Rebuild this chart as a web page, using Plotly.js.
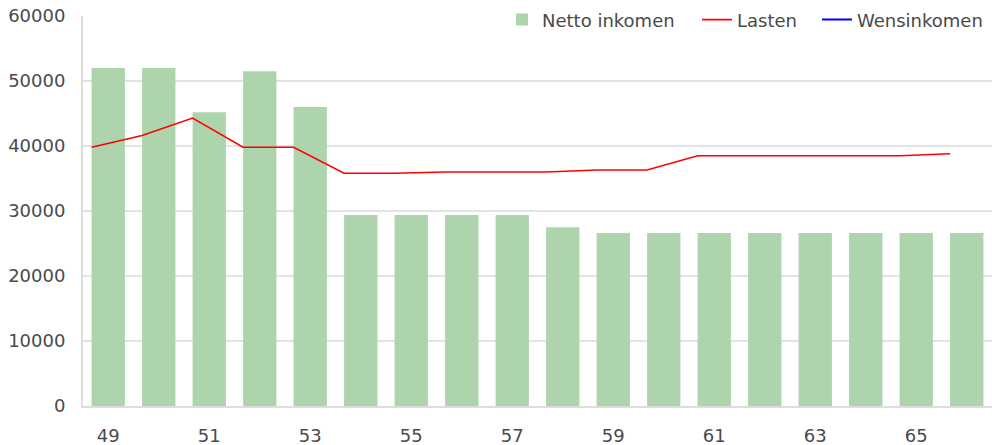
<!DOCTYPE html>
<html><head><meta charset="utf-8">
<script src="https://cdn.plot.ly/plotly-3.0.1.min.js"></script>
<style>html,body{margin:0;padding:0;background:#fff}#c{width:992px;height:445px}</style>
</head><body><div id="c"></div>
<script>
const ages = [49,50,51,52,53,54,55,56,57,58,59,60,61,62,63,64,65,66];
const nettoInkomen = [52000,52000,45200,51500,46000,29400,29400,29400,29400,27500,26600,26600,26600,26600,26600,26600,26600,26600];
const lasten = [39800,41600,44300,39800,39800,35800,35800,36000,36000,36000,36300,36300,38500,38500,38500,38500,38500,38800];
const wensinkomen = ages.map(() => null);
const yTicks = [0,10000,20000,30000,40000,50000,60000];
const xTicks = [49,51,53,55,57,59,61,63,65];

const font = {family: 'DejaVu Sans', size: 18, color: '#4a4a4a'};
const traces = [
  {type:'bar', name:'Netto inkomen', x: ages, y: nettoInkomen, width: 0.66,
   marker:{color:'#aed4ae', line:{width:0}}, xaxis:'x', yaxis:'y', legend:'legend'},
  {type:'scatter', mode:'lines', name:'Lasten', x: ages, y: lasten,
   line:{color:'#ff0000', width:1.6}, xaxis:'x2', yaxis:'y', legend:'legend2'},
  {type:'scatter', mode:'lines', name:'Wensinkomen', x: ages, y: wensinkomen,
   line:{color:'#0000ff', width:2}, xaxis:'x2', yaxis:'y', legend:'legend3'}
];
const px = p => (p - 83) / 909;
const legBase = {orientation:'h', y: 0.99, yanchor:'middle', xanchor:'left',
                 bgcolor:'#fff', font: font, itemwidth: 30, entrywidthmode:'pixels'};
const layout = {
  width: 992, height: 445,
  margin: {l: 83, r: 0, t: 16, b: 39, autoexpand: false},
  paper_bgcolor:'#fff', plot_bgcolor:'#fff',
  font: font,
  showlegend: true,
  legend: Object.assign({}, legBase, {x: px(502), entrywidth: 160}),
  legend2: Object.assign({}, legBase, {x: px(697), entrywidth: 82}),
  legend3: Object.assign({}, legBase, {x: px(817)}),
  bargap: 0.34,
  xaxis: {range:[48.5,66.5], tickmode:'array', tickvals: xTicks, ticktext: xTicks.map(String),
          showgrid:false, showline:true, linecolor:'#ddd', linewidth:2, zeroline:false,
          ticks:'outside', ticklen:12, tickcolor:'rgba(0,0,0,0)', tickfont: font},
  xaxis2: {range:[48.5+0.33,66.5+0.33], overlaying:'x', visible:false},
  yaxis: {range:[0,60000], tickmode:'array', tickvals: yTicks, ticktext: yTicks.map(String),
          showgrid:true, gridcolor:'#e3e3e3', gridwidth:1.5, showline:true, linecolor:'#ddd', linewidth:2,
          zeroline:false, ticks:'outside', ticklen:12, tickcolor:'rgba(0,0,0,0)', tickfont: font}
};
Plotly.newPlot('c', traces, layout, {displayModeBar:false, staticPlot:true});
</script></body></html>
